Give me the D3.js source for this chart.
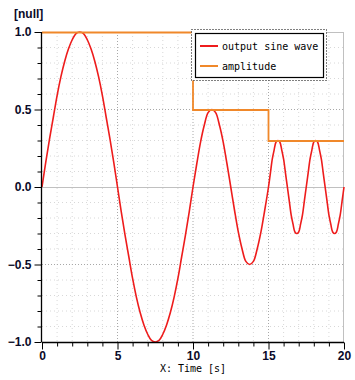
<!DOCTYPE html>
<html><head><meta charset="utf-8">
<script src="https://cdn.jsdelivr.net/npm/d3@7"></script>
<style>body{margin:0;background:#fff}svg{display:block}</style>
</head><body><svg id="c" width="355" height="380"></svg>
<script>
// ---- data ----
const waveTime = [
 0,0.25,0.5,0.75,1,1.25,1.5,1.75,2,2.25,2.5,2.75,3,3.25,3.5,3.75,4,4.25,4.5,4.75,
 5,5.25,5.5,5.75,6,6.25,6.5,6.75,7,7.25,7.5,7.75,8,8.25,8.5,8.75,9,9.25,9.5,9.75,
 10,10.25,10.5,10.75,11,11.25,11.5,11.75,12,12.25,12.5,12.75,13,13.25,13.5,13.75,14,14.25,14.5,14.75,
 15,15.125,15.25,15.375,15.5,15.625,15.75,15.875,16,16.125,16.25,16.375,16.5,16.625,16.75,16.875,17,17.125,17.25,17.375,
 17.5,17.625,17.75,17.875,18,18.125,18.25,18.375,18.5,18.625,18.75,18.875,19,19.125,19.25,19.375,19.5,19.625,19.75,19.875,20];
const waveValue = [
 0,0.16,0.31,0.45,0.59,0.71,0.81,0.89,0.95,0.99,1,0.99,0.95,0.89,0.81,0.71,0.59,0.45,0.31,0.16,
 0,-0.16,-0.31,-0.45,-0.59,-0.71,-0.81,-0.89,-0.95,-0.99,-1,-0.99,-0.95,-0.89,-0.81,-0.71,-0.59,-0.45,-0.31,-0.16,
 0,0.15,0.29,0.40,0.48,0.5,0.48,0.40,0.29,0.15,0,-0.15,-0.29,-0.40,-0.48,-0.5,-0.48,-0.40,-0.29,-0.15,
 0,0.09,0.18,0.24,0.29,0.3,0.29,0.24,0.18,0.09,0,-0.09,-0.18,-0.24,-0.29,-0.3,-0.29,-0.24,-0.18,-0.09,
 0,0.09,0.18,0.24,0.29,0.3,0.29,0.24,0.18,0.09,0,-0.09,-0.18,-0.24,-0.29,-0.3,-0.29,-0.24,-0.18,-0.09,0];
const ampTime = [0,10,15,20];
const ampValue = [1,0.5,0.3,0.3];
const seriesNames = ["output sine wave","amplitude"];
const seriesColors = ["#ee1c1c","#f0882a"];
const xTicks = [0,5,10,15,20];
const yTicks = [-1.0,-0.5,0.0,0.5,1.0];
const xLabel = "X: Time [s]";
const yLabel = "[null]";

// ---- drawing ----
const svg = d3.select("#c");
const x = d3.scaleLinear().domain([0,20]).range([42,344]);
const y = d3.scaleLinear().domain([-1,1]).range([342,32]);

const grid = svg.append("g");
grid.selectAll(".vx").data(d3.range(1,20).filter(v=>v%5!==0)).join("line")
  .attr("x1",d=>x(d)).attr("x2",d=>x(d)).attr("y1",y(1)).attr("y2",y(-1))
  .attr("stroke","#d8d8d8").attr("stroke-dasharray","1,3");
grid.selectAll(".vX").data([5,10,15]).join("line")
  .attr("x1",d=>x(d)).attr("x2",d=>x(d)).attr("y1",y(1)).attr("y2",y(-1))
  .attr("stroke","#a8a8a8").attr("stroke-dasharray","1,2");
const hMinor = d3.range(-9,10).filter(v=>v%5!==0).map(v=>v/10);
grid.selectAll(".hy").data(hMinor).join("line")
  .attr("x1",x(0)).attr("x2",x(20)).attr("y1",d=>y(d)).attr("y2",d=>y(d))
  .attr("stroke","#d8d8d8").attr("stroke-dasharray","1,3");
grid.selectAll(".hY").data([-0.5,0.5]).join("line")
  .attr("x1",x(0)).attr("x2",x(20)).attr("y1",d=>y(d)).attr("y2",d=>y(d))
  .attr("stroke","#a8a8a8").attr("stroke-dasharray","1,2");
grid.append("line").attr("x1",x(0)).attr("x2",x(20)).attr("y1",y(0)+0.5).attr("y2",y(0)+0.5)
  .attr("stroke","#c0c0c0");
grid.append("line").attr("x1",x(20)-0.5).attr("x2",x(20)-0.5).attr("y1",y(1)).attr("y2",y(-1))
  .attr("stroke","#c0c0c0");
grid.append("line").attr("x1",x(0)).attr("x2",x(20)).attr("y1",y(1)+0.5).attr("y2",y(1)+0.5)
  .attr("stroke","#c0c0c0");

// series
const wave = waveTime.map((t,i)=>[t,waveValue[i]]);
svg.append("path").datum(wave)
  .attr("d",d3.line().x(d=>x(d[0])).y(d=>y(d[1])).curve(d3.curveCatmullRom))
  .attr("fill","none").attr("stroke",seriesColors[0]).attr("stroke-width",1.6);
const amp = ampTime.map((t,i)=>[t,ampValue[i]]);
svg.append("path").datum(amp)
  .attr("d",d3.line().x(d=>x(d[0])).y(d=>y(d[1])+0.5).curve(d3.curveStepAfter))
  .attr("fill","none").attr("stroke",seriesColors[1]).attr("stroke-width",1.8);

// axes
const tickFont = "bold 12px 'Liberation Sans', Arial, sans-serif";
const yAxis = svg.append("g").attr("transform",`translate(${x(0)-0.5},0)`)
  .call(d3.axisLeft(y).tickValues(yTicks).tickFormat(d3.format(".1f")).tickSize(7).tickPadding(3));
svg.append("g").attr("transform",`translate(${x(0)-0.5},0)`)
  .call(d3.axisLeft(y).tickValues(hMinor).tickFormat("").tickSize(4))
  .select(".domain").remove();
const xAxis = svg.append("g").attr("transform",`translate(0,${y(-1)+0.5})`)
  .call(d3.axisBottom(x).tickValues(xTicks).tickFormat(d3.format("d")).tickSize(7).tickPadding(2));
svg.append("g").attr("transform",`translate(0,${y(-1)+0.5})`)
  .call(d3.axisBottom(x).tickValues(d3.range(1,20).filter(v=>v%5!==0)).tickFormat("").tickSize(4))
  .select(".domain").remove();
svg.selectAll(".domain").attr("stroke","#000").attr("stroke-width",1.3);
svg.selectAll(".tick line").attr("stroke","#000");
svg.selectAll(".tick text").style("font",tickFont).attr("fill","#0a0a28");
yAxis.selectAll(".domain").attr("d",`M0,${y(1)}V${y(-1)}`);
xAxis.selectAll(".domain").attr("d",`M${x(0)},0H${x(20)}`);

svg.append("text").attr("x",14).attr("y",18).text(yLabel)
  .style("font","bold 12px 'Liberation Sans', Arial, sans-serif").attr("fill","#0a0a28");
svg.append("text").attr("x",(x(0)+x(20))/2).attr("y",372).attr("text-anchor","middle")
  .text(xLabel).style("font","10px 'DejaVu Sans Mono', monospace").attr("fill","#000");

// legend
const lg = svg.append("g");
lg.append("rect").attr("x",191.5).attr("y",29.5).attr("width",135).attr("height",51)
  .attr("fill","#fff").attr("stroke","#000").attr("stroke-dasharray","1,2");
lg.append("rect").attr("x",195.5).attr("y",33.5).attr("width",128).attr("height",44)
  .attr("fill","#fff").attr("stroke","#000").attr("stroke-width",1.2);
seriesNames.forEach((n,i)=>{
  const yy = 46 + i*20;
  lg.append("line").attr("x1",200).attr("x2",218).attr("y1",yy).attr("y2",yy)
    .attr("stroke",seriesColors[i]).attr("stroke-width",2);
  lg.append("text").attr("x",222).attr("y",yy+3.5).text(n)
    .style("font","10px 'DejaVu Sans Mono', monospace").attr("fill","#000");
});
</script></body></html>
